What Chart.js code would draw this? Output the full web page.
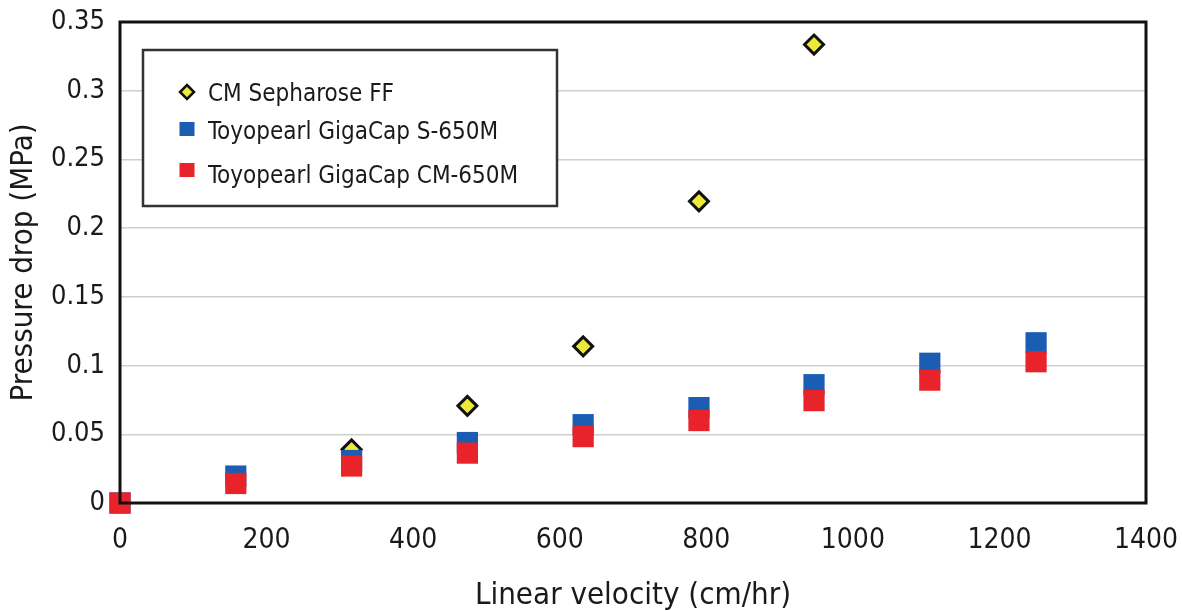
<!DOCTYPE html>
<html>
<head>
<meta charset="utf-8">
<script src="https://cdn.jsdelivr.net/npm/chart.js@4"></script>
<style>
  html, body { margin: 0; padding: 0; background: #fff; }
  canvas { display: block; }
</style>
</head>
<body>
<canvas id="pressureChart" width="1182" height="611"></canvas>
<script>
// values
const seriesNames = ['CM Sepharose FF', 'Toyopearl GigaCap S-650M', 'Toyopearl GigaCap CM-650M'];
const velocity = [0, 158, 316, 474, 632, 790, 947, 1105, 1250];
const sepharoseVelocity = [316, 474, 632, 790, 947];
const sepharoseDrop = [0.039, 0.0707, 0.114, 0.2195, 0.3336];
const s650mDrop = [0, 0.0196, 0.0309, 0.044, 0.057, 0.0694, 0.0861, 0.1017, 0.1166];
const cm650mDrop = [0, 0.0142, 0.0269, 0.0363, 0.0483, 0.060, 0.0745, 0.0894, 0.1028];
const yTickLabels = ['0', '0.05', '0.1', '0.15', '0.2', '0.25', '0.3', '0.35'];
const xTickLabels = ['0', '200', '400', '600', '800', '1000', '1200', '1400'];

const FONT = "'DejaVu Sans Condensed', 'Liberation Sans', sans-serif";
const TEXT = '#1a1a1a';
const YELLOW = '#ece93a';
const BLUE = '#1b5db3';
const RED = '#e9232a';

const toPoints = (xs, ys) => xs.map((x, i) => ({ x: x, y: ys[i] }));

// thick frame round the plot area
const frame = {
    id: 'frame',
    afterDatasetsDraw(chart) {
        const a = chart.chartArea;
        const ctx = chart.ctx;
        ctx.save();
        ctx.strokeStyle = '#111';
        ctx.lineWidth = 3;
        ctx.strokeRect(a.left, a.top, a.right - a.left, a.bottom - a.top);
        ctx.restore();
    }
};

// boxed legend sitting inside the plot, top left
const boxLegend = {
    id: 'boxLegend',
    afterDraw(chart) {
        const ctx = chart.ctx;
        const rowsMarker = [92, 129, 170];
        const rowsText = [92, 130, 174];
        ctx.save();
        ctx.fillStyle = '#fff';
        ctx.fillRect(143, 50, 414, 156);
        ctx.strokeStyle = '#333';
        ctx.lineWidth = 2.5;
        ctx.strokeRect(143, 50, 414, 156);

        chart.data.datasets.forEach((ds, i) => {
            const cy = rowsMarker[i];
            const cx = 187;
            if (ds.pointStyle === 'rectRot') {
                ctx.beginPath();
                ctx.moveTo(cx, cy - 7);
                ctx.lineTo(cx + 7, cy);
                ctx.lineTo(cx, cy + 7);
                ctx.lineTo(cx - 7, cy);
                ctx.closePath();
                ctx.fillStyle = ds.backgroundColor;
                ctx.fill();
                ctx.lineWidth = 2.5;
                ctx.strokeStyle = '#111';
                ctx.stroke();
            } else {
                ctx.fillStyle = ds.backgroundColor;
                ctx.fillRect(cx - 7.5, cy - 7, 15, 14);
            }
            ctx.fillStyle = TEXT;
            ctx.font = '24px ' + FONT;
            ctx.textAlign = 'left';
            ctx.textBaseline = 'alphabetic';
            ctx.fillText(ds.label, 208, rowsText[i] + 8.7);
        });
        ctx.restore();
    }
};

const ctx = document.getElementById('pressureChart');
new Chart(ctx, {
    type: 'scatter',
    data: {
        datasets: [
            {
                label: seriesNames[0],
                data: toPoints(sepharoseVelocity, sepharoseDrop),
                pointStyle: 'rectRot',
                pointRadius: 9.5,
                backgroundColor: YELLOW,
                borderColor: '#111',
                borderWidth: 3,
                order: 3,
                clip: false
            },
            {
                label: seriesNames[1],
                data: toPoints(velocity, s650mDrop),
                pointStyle: 'rect',
                pointRadius: 15,
                backgroundColor: BLUE,
                borderWidth: 0,
                order: 2,
                clip: false
            },
            {
                label: seriesNames[2],
                data: toPoints(velocity, cm650mDrop),
                pointStyle: 'rect',
                pointRadius: 15,
                backgroundColor: RED,
                borderWidth: 0,
                order: 1,
                clip: false
            }
        ]
    },
    options: {
        responsive: false,
        animation: false,
        layout: { padding: { top: 22, right: 36, left: 0, bottom: 0 } },
        plugins: {
            legend: { display: false },
            tooltip: { enabled: false }
        },
        scales: {
            x: {
                type: 'linear',
                min: 0,
                max: 1400,
                afterFit: (scale) => {
                    scale.height = 108;
                    scale.paddingLeft = 0;
                    scale.paddingRight = 0;
                },
                grid: { display: false, drawTicks: false },
                border: { display: false },
                ticks: {
                    stepSize: 200,
                    padding: 21,
                    color: TEXT,
                    font: { family: FONT, size: 28 },
                    maxRotation: 0,
                    callback: (v) => xTickLabels[Math.round(v / 200)]
                },
                title: {
                    display: true,
                    text: 'Linear velocity (cm/hr)',
                    color: TEXT,
                    font: { family: FONT, size: 31, lineHeight: 1.0 },
                    padding: { top: 0, bottom: 0 }
                }
            },
            y: {
                min: 0,
                max: 0.35,
                afterFit: (scale) => {
                    scale.width = 120;
                    scale.paddingTop = 0;
                    scale.paddingBottom = 0;
                },
                grid: {
                    drawTicks: false,
                    color: '#cfcfcf',
                    lineWidth: 1.5
                },
                border: { display: false },
                ticks: {
                    stepSize: 0.05,
                    padding: 15,
                    color: TEXT,
                    font: { family: FONT, size: 27 },
                    callback: (v) => yTickLabels[Math.round(v / 0.05)]
                },
                title: {
                    display: true,
                    text: 'Pressure drop (MPa)',
                    color: TEXT,
                    font: { family: FONT, size: 31, lineHeight: 1.0 },
                    padding: { top: 8, bottom: 0 }
                }
            }
        }
    },
    plugins: [frame, boxLegend]
});
</script>
</body>
</html>
